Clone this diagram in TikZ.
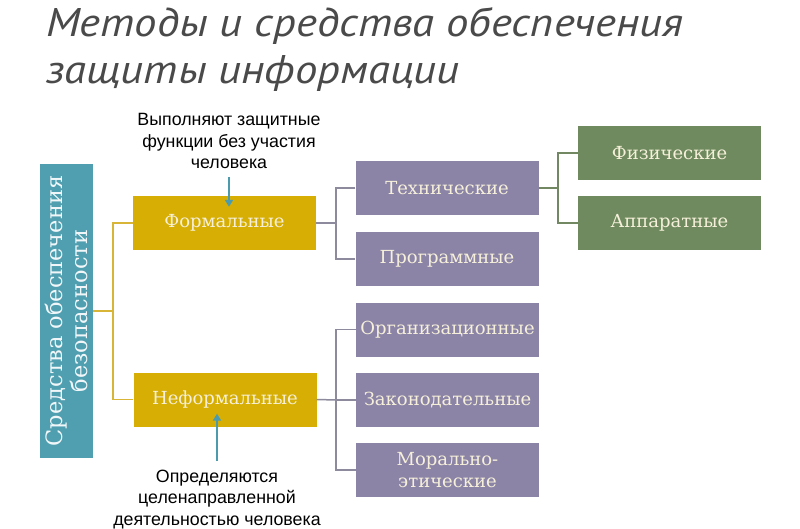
\documentclass[tikz,border=0pt]{standalone}
\usepackage{fontspec}
\setmainfont{DejaVu Serif}
\newfontfamily\titlefont[FakeStretch=1.12]{PT Sans}
\newfontfamily\annfont{Liberation Sans}
\usetikzlibrary{arrows.meta}
\definecolor{teal1}{HTML}{4F9FB0}
\definecolor{gold1}{HTML}{D6AE04}
\definecolor{goldln}{HTML}{D8B536}
\definecolor{purp1}{HTML}{8B84A7}
\definecolor{green1}{HTML}{6E8A5E}
\definecolor{cream}{HTML}{F6F0DA}
\definecolor{titlegray}{HTML}{4A4A4A}
\definecolor{linegray}{HTML}{8C8A9C}
\definecolor{arrteal}{HTML}{4A9BAE}
\begin{document}
\begin{tikzpicture}[x=1pt,y=-1pt,
  box/.style={rectangle, inner sep=0pt, minimum width=183pt, minimum height=54pt,
    text=cream, font=\fontsize{18}{22}\selectfont, align=center},
  goldbox/.style={box, fill=gold1},
  purpbox/.style={box, fill=purp1},
  greenbox/.style={box, fill=green1},
  goldline/.style={draw=goldln, line width=1.5pt},
  purpline/.style={draw=linegray, line width=1.5pt},
  greenline/.style={draw=green1!85!gray, line width=1.5pt},
  ann/.style={align=center, text=black, font=\annfont\fontsize{17.8}{21.5}\selectfont, inner sep=0pt},
  titletext/.style={anchor=base west, inner sep=0pt, text=titlegray, font=\titlefont\itshape\fontsize{40}{47}\selectfont},
  arr/.style={draw=arrteal, line width=2pt, -{Triangle[length=7pt,width=8pt]}}
]
\useasboundingbox (0,0) rectangle (800,529);
\fill[white] (0,0) rectangle (800,529);

% title
\node[titletext] (title1) at (46,37) {Методы и средства обеспечения};
\node[titletext] (title2) at (46,84) {защиты информации};

% side box
\node[rectangle, fill=teal1, minimum width=53pt, minimum height=294pt, inner sep=0pt] (side) at (66.5,311) {};
\node[rotate=90, align=center, text=white!92!teal1, font=\fontsize{22.5}{25}\selectfont, inner sep=0pt] (sidetext) at (side.center) {Средства обеспечения\\безопасности};

% boxes
\node[goldbox] (formal) at (224.5,223) {Формальные};
\node[goldbox] (neformal) at (225,399.5) {Неформальные};
\node[purpbox] (tech) at (447,188) {Технические};
\node[purpbox] (prog) at (447,259) {Программные};
\node[greenbox] (fiz) at (669.5,153) {Физические};
\node[greenbox] (app) at (669.5,223) {Аппаратные};
\node[purpbox] (org) at (447.5,329.5) {Организационные};
\node[purpbox] (zak) at (447.5,400) {Законодательные};
\node[purpbox] (mor) at (447.5,470) {Морально-\\этические};

% junctions
\coordinate (j1) at (113,311);
\coordinate (j2) at (336,223);
\coordinate (j3) at (558,188);
\coordinate (j4) at (336,400);

\draw[goldline] (side.east) -- (j1);
\draw[goldline] (formal.west) -| (j1) |- (neformal.west);
\draw[purpline] (formal.east) -- (j2);
\draw[purpline] (tech.west) -| (j2) |- (prog.west);
\draw[greenline] (tech.east) -- (j3);
\draw[greenline] (fiz.west) -| (j3) |- (app.west);
\draw[purpline] (neformal.east) -- (j4);
\draw[purpline] (org.west) -| (j4) |- (mor.west);
\draw[purpline] (zak.west) -- (j4);

% annotations (base anchor = baseline of last line)
\node[ann, anchor=base] (ann1) at (229,169) {Выполняют защитные\\функции без участия\\человека};
\coordinate (t1) at (229,177);
\draw[arr] (t1) -- ([xshift=4.5pt,yshift=-11pt]formal.north);

\node[ann, anchor=base] (ann2) at (217,525) {Определяются\\целенаправленной\\деятельностью человека};
\coordinate (t2) at (217,461);
\draw[arr] (t2) -- ([xshift=-8pt,yshift=13pt]neformal.south);
\end{tikzpicture}
\end{document}
